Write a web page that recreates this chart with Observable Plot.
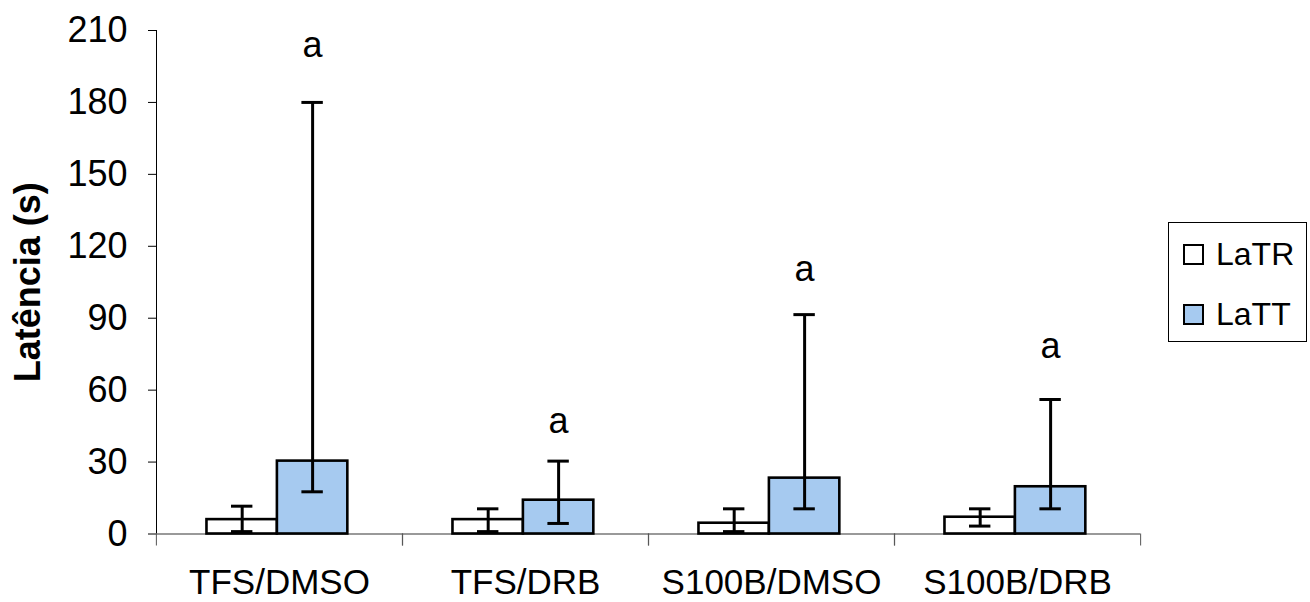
<!DOCTYPE html>
<html><head><meta charset="utf-8">
<script src="https://cdn.jsdelivr.net/npm/d3@7"></script>
<script src="https://cdn.jsdelivr.net/npm/@observablehq/plot@0.6"></script>
<style>
body{margin:0;background:#fff;font-family:"Liberation Sans",Arial,sans-serif}
#wrap{position:relative;width:1310px;height:602px;overflow:hidden}
#legend{position:absolute;left:1168px;top:222px;width:139px;height:120px;border:1px solid #000;box-sizing:border-box;background:#fff}
#legend .item{position:absolute;left:14px;display:flex;align-items:center;height:23px;font-size:32px;color:#000}
#legend .sw{width:17px;height:17px;border:2.5px solid #000;margin-right:12px;display:inline-block}
[aria-label="y-axis label"]{font-weight:bold}
</style></head><body>
<div id="wrap"><div id="chart"></div><div id="legend"></div></div>
<script>
const categories = ["TFS/DMSO","TFS/DRB","S100B/DMSO","S100B/DRB"];
const series = ["LaTR","LaTT"];
const colors = ["#ffffff","#a6caf0"];
const latr = [6, 6, 4.5, 7];
const latrLow = [1, 1, 1, 3.3];
const latrHigh = [11.6, 10.5, 10.5, 10.5];
const latt = [30.4, 14.1, 23.3, 19.7];
const lattLow = [17.6, 4.4, 10.5, 10.5];
const lattHigh = [180, 30.4, 91.5, 56.1];
const sigLabels = ["a","a","a","a"];
const sigY = [199, 42, 105.4, 73.2];
const yTicks = [0,30,60,90,120,150,180,210];

const data = categories.flatMap((c,i)=>[
  {cat:c, series:series[0], value:latr[i], low:latrLow[i], high:latrHigh[i]},
  {cat:c, series:series[1], value:latt[i], low:lattLow[i], high:lattHigh[i]}
]);
const sig = categories.map((c,i)=>({cat:c, series:series[1], y:sigY[i], label:sigLabels[i]}));

const W=1310, mL=155, mR=170;
const half = (W-mL-mR)/categories.length/2;

const plot = Plot.plot({
  width:W, height:602, marginLeft:mL, marginRight:mR, marginTop:30, marginBottom:68.5,
  style:{fontFamily:"'Liberation Sans', Arial, sans-serif", fontSize:"36px", color:"#000", background:"white"},
  fx:{domain:categories, padding:0, label:null},
  x:{domain:series, paddingInner:0, paddingOuter:0.7465, align:0.48, axis:null, round:false},
  y:{domain:[0,210], ticks:yTicks, tickSize:8, tickPadding:21, line:true, label:"Latência (s)", labelAnchor:"center", labelOffset:142, labelArrow:false},
  color:{domain:series, range:colors},
  marks:[
    Plot.ruleY([0], {stroke:"#777", strokeWidth:1.3}),
    Plot.axisFx({anchor:"bottom", tickSize:0, tickPadding:35, fontSize:35, label:null}),
    Plot.axisFx({anchor:"bottom", tickSize:12, text:null, label:null, dx:-half, stroke:"#555"}),
    Plot.axisFx([categories[categories.length-1]], {anchor:"bottom", tickSize:12, text:null, label:null, dx:half, stroke:"#555"}),
    Plot.barY(data, {fx:"cat", x:"series", y:"value", fill:"series", stroke:"#000", strokeWidth:2.6}),
    Plot.ruleX(data, {fx:"cat", x:"series", y1:"low", y2:"high", stroke:"#000", strokeWidth:3}),
    Plot.tickY(data, {fx:"cat", x:"series", y:"low", stroke:"#000", strokeWidth:3, insetLeft:24.5, insetRight:24.5}),
    Plot.tickY(data, {fx:"cat", x:"series", y:"high", stroke:"#000", strokeWidth:3, insetLeft:24.5, insetRight:24.5}),
    Plot.text(sig, {fx:"cat", x:"series", y:"y", text:"label", lineAnchor:"bottom", fontSize:36, fill:"#000"})
  ]
});
document.getElementById("chart").appendChild(plot);

const legend = document.getElementById("legend");
series.forEach((s,i)=>{
  const item = document.createElement("div");
  item.className="item";
  item.style.top = (i===0 ? 20 : 80) + "px";
  const sw = document.createElement("span");
  sw.className="sw"; sw.style.background = colors[i];
  const t = document.createElement("span");
  t.textContent = s;
  item.appendChild(sw); item.appendChild(t);
  legend.appendChild(item);
});
</script>
</body></html>
